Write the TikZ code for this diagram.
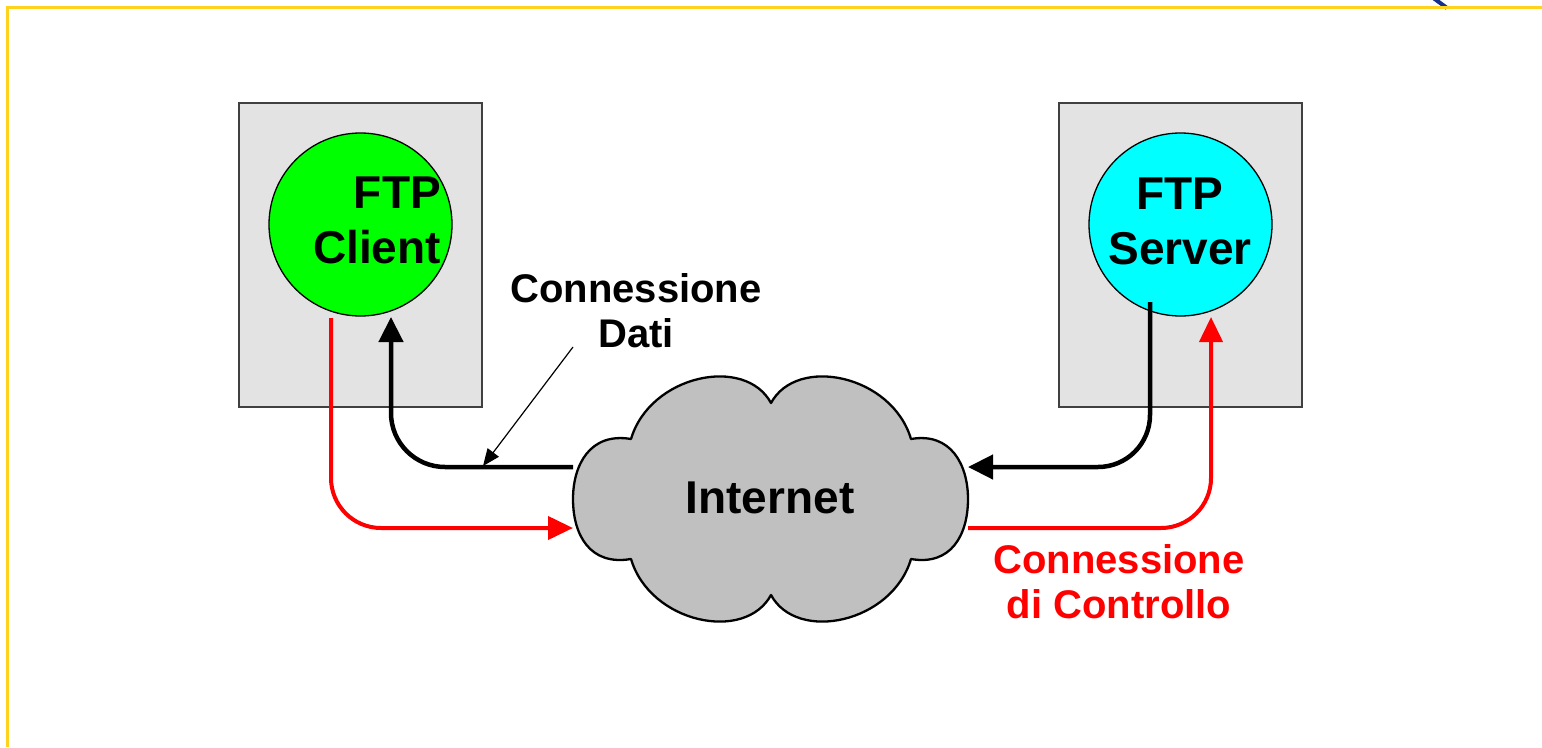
\documentclass[tikz,border=0pt]{standalone}
\usepackage{fontspec}
\setmainfont{Liberation Sans}
\usetikzlibrary{arrows.meta}
\definecolor{frameyellow}{RGB}{255,210,30}
\definecolor{logoblue}{RGB}{20,50,140}
\definecolor{hostgray}{RGB}{227,227,227}
\definecolor{hostedge}{RGB}{64,64,64}
\definecolor{cloudgray}{RGB}{192,192,192}
\definecolor{ftpgreen}{RGB}{0,255,0}
\definecolor{ftpcyan}{RGB}{0,255,255}
\definecolor{ctrlred}{RGB}{255,0,0}
\begin{document}
\begin{tikzpicture}[x=1pt, y=-1pt,
  hostbox/.style={draw=hostedge, line width=1.5pt, fill=hostgray, inner sep=0pt,
    minimum width=243pt, minimum height=304pt},
  proc/.style={circle, draw=black, line width=1.3pt, minimum size=183pt, inner sep=0pt},
  bigtext/.style={font=\bfseries\fontsize{46}{55}\selectfont, inner sep=0pt},
  lbl/.style={font=\bfseries\fontsize{40}{45}\selectfont, inner sep=0pt, align=center},
  cloudshape/.style={draw=black, line width=2.3pt, fill=cloudgray, line join=round},
  datapath/.style={draw=black, line width=4.5pt, -{Triangle[length=25pt,width=24pt]}},
  ctrlpath/.style={draw=ctrlred, line width=4pt, -{Triangle[length=25pt,width=23pt]}},
  pointer/.style={draw=black, line width=1.2pt, -{Triangle[length=17pt,width=14pt]}},
]
\useasboundingbox (0,0) rectangle (1542,747);
\fill[white] (0,0) rectangle (1542,747);

% page frame and logo fragment
\draw[logoblue, line width=4pt] (1432,-3) -- (1447,8);
\draw[frameyellow, line width=3pt] (1542,7.5) -- (7.5,7.5) -- (7.5,747);

% hosts
\node[hostbox] (clienthost) at (360.5,255) {};
\node[hostbox] (serverhost) at (1180.5,255) {};

% FTP processes
\node[proc, fill=ftpgreen] (client) at (360.5,224.5) {};
\node[proc, fill=ftpcyan] (server) at (1180.5,224.5) {};
\node[bigtext, align=right, anchor=base east] (clientlabel) at (441,263) {FTP\\Client};
\node[bigtext, align=center, anchor=base] (serverlabel) at (1180,264) {FTP\\Server};

% connection end points
\coordinate (cDataIn) at (391,317);
\coordinate (cCtrlOut) at (331,318);
\coordinate (sDataOut) at (1150,302);
\coordinate (sCtrlIn) at (1211,317);
\coordinate (netDataW) at (573,467);
\coordinate (netCtrlW) at (573,528);
\coordinate (netDataE) at (968,467);
\coordinate (netCtrlE) at (968,528);

% data connection
\draw[datapath, rounded corners=54pt] (netDataW) -| (cDataIn);
\draw[datapath, rounded corners=52pt] (sDataOut) |- (netDataE);
% control connection
\draw[ctrlpath, rounded corners=50pt] (cCtrlOut) |- (netCtrlW);
\draw[ctrlpath, rounded corners=50pt] (netCtrlE) -| (sCtrlIn);

% the Internet
\draw[cloudshape] (631,439)
  .. controls (650,375) and (745,355) .. (771,403)
  .. controls (797,355) and (892,375) .. (911,439)
  .. controls (951,432) and (968,465) .. (968,499)
  .. controls (968,535) and (951,566) .. (911,559)
  .. controls (892,623) and (797,643) .. (771,595)
  .. controls (745,643) and (650,623) .. (631,559)
  .. controls (590,566) and (573,535) .. (573,499)
  .. controls (573,465) and (590,432) .. (631,439) -- cycle;
\node[bigtext, anchor=base] (internet) at (770,513) {Internet};

% labels
\node[lbl, anchor=base] (datalabel) at (636,347) {Connessione\\Dati};
\coordinate (pointerStart) at (573,347);
\coordinate (pointerEnd) at (483,466);
\draw[pointer] (pointerStart) -- (pointerEnd);
\node[lbl, anchor=base, text=ctrlred] (ctrllabel) at (1119,618) {Connessione\\di Controllo};
\end{tikzpicture}
\end{document}
